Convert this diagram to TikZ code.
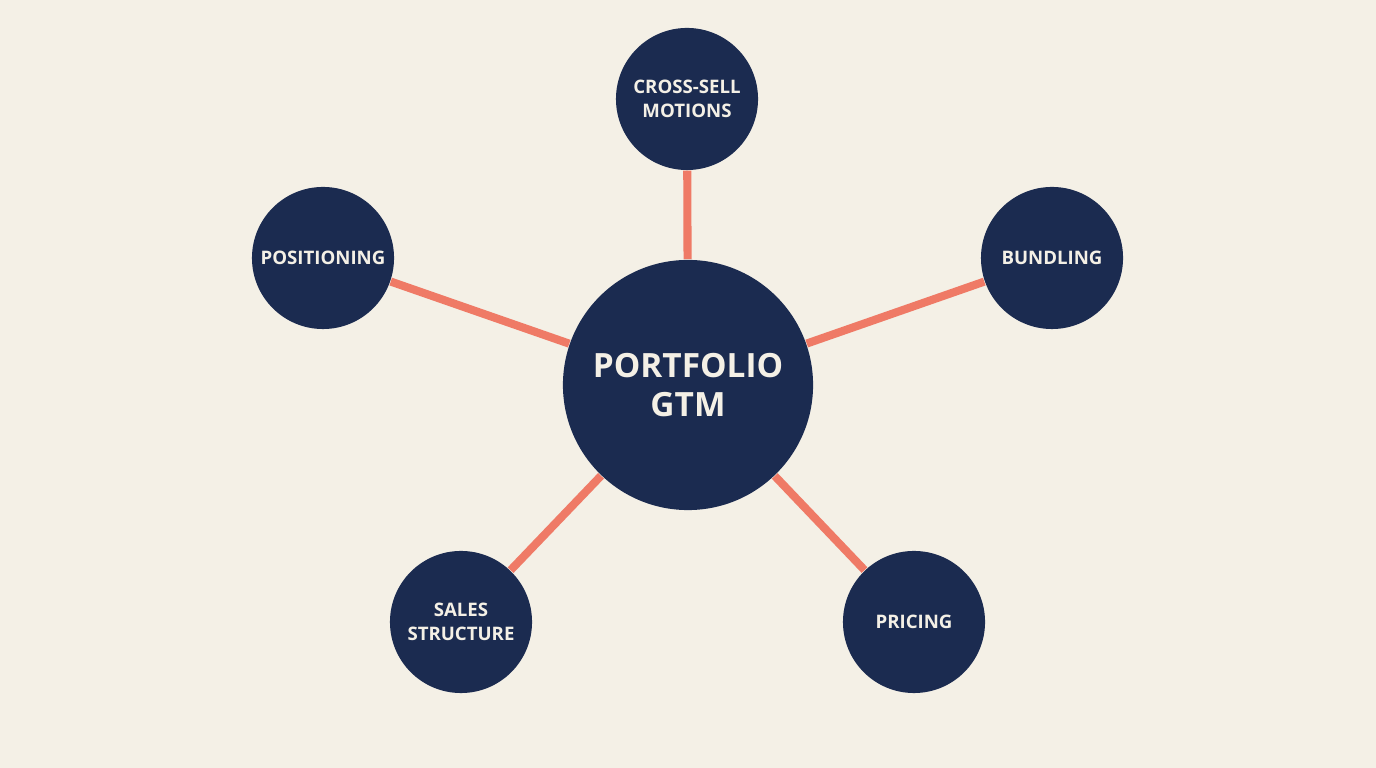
\documentclass[tikz,border=0pt]{standalone}
\usepackage{fontspec}
\setmainfont{Open Sans}
\definecolor{paper}{HTML}{F4F0E6}
\definecolor{navy}{HTML}{1B2B50}
\definecolor{coral}{HTML}{EF7A66}
\begin{document}
\begin{tikzpicture}[x=0.01cm,y=-0.01cm,
    hub/.style={circle,fill=navy,text=paper,minimum size=2.5cm,inner sep=0pt,
      align=center,font=\bfseries\fontsize{9.5}{11.2}\selectfont},
    spoke/.style={circle,fill=navy,text=paper,minimum size=1.42cm,inner sep=0pt,
      align=center,font=\bfseries\fontsize{5.3}{6.9}\selectfont},
    link/.style={coral,line width=2.3pt}]
  \fill[paper] (0,0) rectangle (1376,768);
  \useasboundingbox (0,0) rectangle (1376,768);
  \node[hub] (gtm) at (688,385) {PORTFOLIO\\GTM};
  \node[spoke] (cross) at (687,99) {CROSS-SELL\\MOTIONS};
  \node[spoke] (pos) at (323,258) {POSITIONING};
  \node[spoke] (bund) at (1052,258) {BUNDLING};
  \node[spoke] (sales) at (461,622) {SALES\\STRUCTURE};
  \node[spoke] (price) at (914,622) {PRICING};
  \foreach \n in {cross,pos,bund,sales,price}
    \draw[link] (gtm) -- (\n);
\end{tikzpicture}
\end{document}
